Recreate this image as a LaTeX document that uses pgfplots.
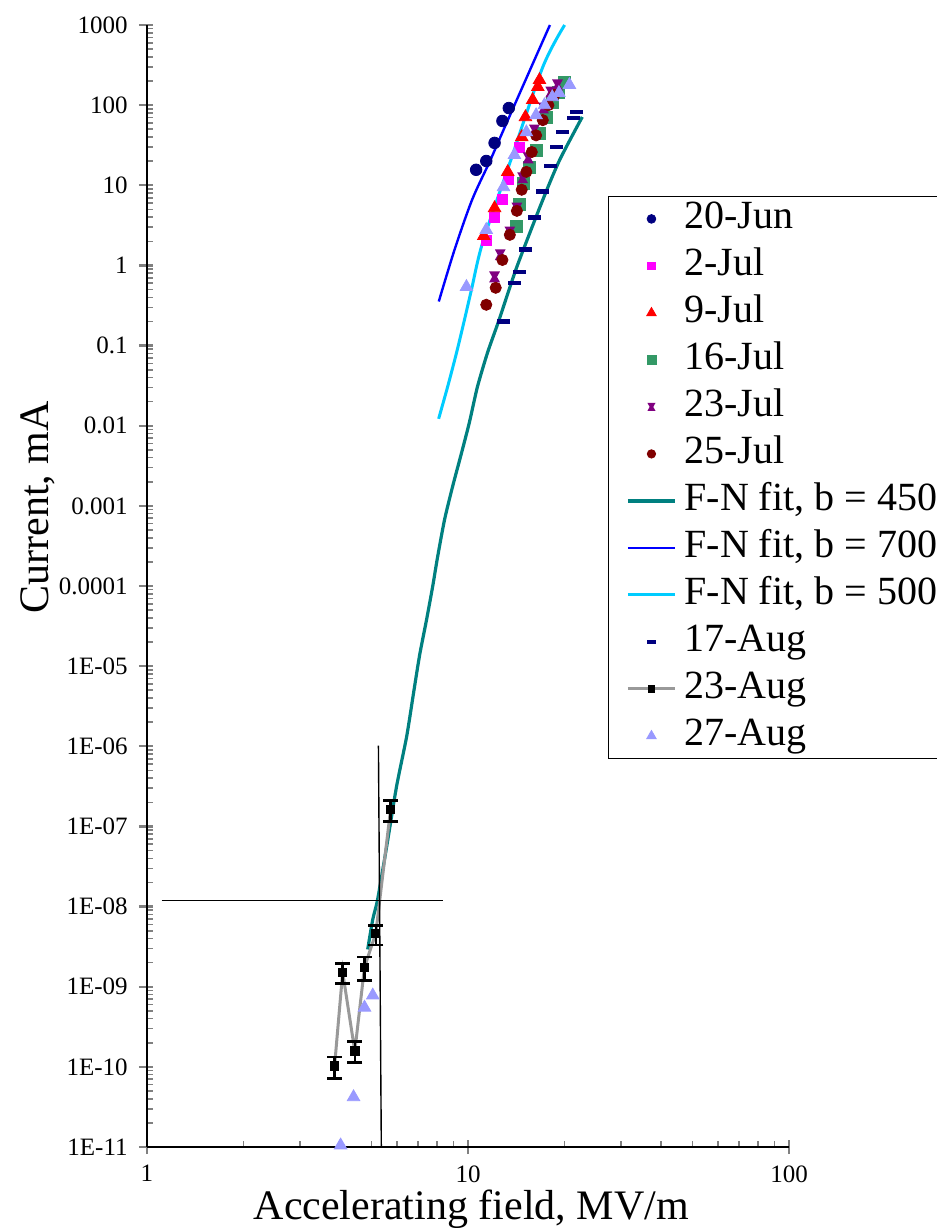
\documentclass[border=0pt]{standalone}
\usepackage{fontspec}
\setmainfont{Liberation Serif}
\usepackage{pgfplots}
\pgfplotsset{compat=1.18}

\definecolor{cNavy}{HTML}{000080}
\definecolor{cMag}{HTML}{FF00FF}
\definecolor{cRed}{HTML}{FF0000}
\definecolor{cGreen}{HTML}{339966}
\definecolor{cPurple}{HTML}{800080}
\definecolor{cDkRed}{HTML}{800000}
\definecolor{cTeal}{HTML}{008080}
\definecolor{cBlue}{HTML}{0000FF}
\definecolor{cCyan}{HTML}{00CCFF}
\definecolor{cGray}{HTML}{999999}
\definecolor{cLav}{HTML}{9999FF}

% hourglass-like mark (23-Jul)
\pgfdeclareplotmark{hourglass}{%
  \pgfpathmoveto{\pgfpoint{-\pgfplotmarksize}{\pgfplotmarksize}}%
  \pgfpathlineto{\pgfpoint{\pgfplotmarksize}{\pgfplotmarksize}}%
  \pgfpathlineto{\pgfpoint{0.45\pgfplotmarksize}{0pt}}%
  \pgfpathlineto{\pgfpoint{\pgfplotmarksize}{-\pgfplotmarksize}}%
  \pgfpathlineto{\pgfpoint{-\pgfplotmarksize}{-\pgfplotmarksize}}%
  \pgfpathlineto{\pgfpoint{-0.45\pgfplotmarksize}{0pt}}%
  \pgfpathclose\pgfusepathqfill}
% short horizontal bar (17-Aug)
\pgfdeclareplotmark{hdash}{%
  \pgfpathrectangle{\pgfpoint{-\pgfplotmarksize}{-0.35\pgfplotmarksize}}{\pgfpoint{2\pgfplotmarksize}{0.7\pgfplotmarksize}}%
  \pgfusepathqfill}

\begin{document}
\begin{tikzpicture}
\begin{axis}[
  name=ax,
  scale only axis,
  width=321pt, height=561pt,
  xmode=log, ymode=log,
  xmin=1, xmax=100, ymin=1e-11, ymax=1000,
  clip=false,
  axis x line*=bottom, axis y line*=left,
  axis line style={-, line width=1pt},
  xtick={1,10,100}, xticklabels={1,10,100},
  ytick={1e-11,1e-10,1e-9,1e-8,1e-7,1e-6,1e-5,1e-4,1e-3,1e-2,1e-1,1,10,100,1000},
  yticklabels={1E-11,1E-10,1E-09,1E-08,1E-07,1E-06,1E-05,0.0001,0.001,0.01,0.1,1,10,100,1000},
  tick align=inside,
  major tick length=7pt, minor tick length=3pt,
  every major x tick/.append style={yshift=-3.5pt, line width=1.2pt},
  every major y tick/.append style={xshift=-4pt, line width=1.2pt},
  minor tick style={line width=0.8pt},
  ticklabel style={font=\fontsize{12.5}{15}\selectfont},
  xticklabel style={inner sep=0pt, yshift=-9pt},
  yticklabel style={inner sep=0pt, xshift=-9.5pt},
  xlabel={Accelerating field, MV/m},
  ylabel={Current, mA},
  label style={font=\fontsize{21}{25}\selectfont},
  xlabel style={at={(axis description cs:0.505,-0.038)}, anchor=north, inner sep=0pt},
  ylabel style={at={(axis description cs:-0.154,0.57)}, rotate=0, anchor=base, inner sep=0pt},
  legend style={at={(0.718,0.8476)}, anchor=north west, draw=black,
    font=\fontsize{20}{24}\selectfont, inner xsep=9pt, inner ysep=2pt,
    row sep=5pt, column sep=4pt,
    nodes={inner sep=0pt, text height=14pt, text depth=4.5pt}},
  legend cell align=left,
  legend image code/.code={\draw[mark repeat=2,mark phase=2,#1,
    every mark/.append style={scale=0.75}]
    plot coordinates {(0pt,0pt) (11.75pt,0pt) (23.5pt,0pt)};},
]

% 20-Jun
\addplot[only marks, mark=*, mark size=2.9pt, color=cNavy] coordinates {
  (10.6,15.6)(11.4,20.1)(12.1,33.8)(12.8,63.5)(13.4,92)
};
\addlegendentry{20-Jun}

% 2-Jul
\addplot[only marks, mark=square*, mark size=2.5pt, color=cMag] coordinates {
  (11.4,2.08)(12.1,3.93)(12.8,6.6)(13.4,12.0)(14.5,30)
};
\addlegendentry{2-Jul}

% 9-Jul
\addplot[only marks, mark=triangle*, mark size=3.6pt, color=cRed] coordinates {
  (11.2,2.34)(12.1,5.2)(13.3,14.7)(14.7,40)(15.1,71)(15.9,116)(16.5,169)(16.7,206)
};
\addlegendentry{9-Jul}

% 16-Jul
\addplot[only marks, mark=square*, mark size=3pt, color=cGreen] coordinates {
  (14.2,3.03)(14.5,5.7)(14.9,10.7)(15.5,16.5)(16.3,27.6)(16.7,45)(17.5,71)(18.3,107)(19.1,146)(19.96,195)
};
\addlegendentry{16-Jul}

% 23-Jul
\addplot[only marks, mark=hourglass, mark size=2.7pt, color=cPurple] coordinates {
  (12.1,0.72)(12.6,1.36)(13.5,2.62)(14.2,5.2)(14.8,12.4)(15.4,22)(16.1,49)(17.2,92)(18.1,146)(19.0,179)
};
\addlegendentry{23-Jul}

% 25-Jul
\addplot[only marks, mark=*, mark size=2.8pt, color=cDkRed] coordinates {
  (11.4,0.323)(12.2,0.526)(12.8,1.17)(13.5,2.41)(14.2,4.8)(14.7,8.8)(15.2,14.7)(15.8,26)(16.3,42)(17.1,65)(17.8,100)(18.6,134)
};
\addlegendentry{25-Jul}

% F-N fit, b = 450
\addplot[no marks, smooth, tension=0.4, color=cTeal, line width=1.6pt] coordinates {
  (4.87,2.92e-9)(5.05,6.9e-9)(5.23,1.23e-8)(5.58,5.6e-8)(5.99,3.15e-7)(6.44,1.32e-6)
  (6.76,4.5e-6)(7.07,1.38e-5)(7.43,3.81e-5)(7.76,9.8e-5)(8.04,2.3e-4)(8.45,6.7e-4)
  (8.95,1.73e-3)(9.55,4.6e-3)(10.1,1.1e-2)(10.7,0.0306)(11.5,0.0813)(12.5,0.210)
  (14.2,0.962)(17.1,6.58)(19.3,20.7)(22.7,71.3)
};
\addlegendentry{F-N fit, b = 450}

% F-N fit, b = 700
\addplot[no marks, smooth, color=cBlue, line width=1.2pt] coordinates {
  (8.11,0.355)(9.08,1.57)(10.3,6.6)(11.7,20)(12.9,49)(15.85,317)(18.0,1000)
};
\addlegendentry{F-N fit, b = 700}

% F-N fit, b = 500
\addplot[no marks, smooth, color=cCyan, line width=1.5pt] coordinates {
  (8.10,0.0122)(8.64,0.0306)(9.21,0.0813)(9.75,0.21)(10.25,0.497)(11.1,1.91)(13.5,19.0)(17.1,299)(20.0,1000)
};
\addlegendentry{F-N fit, b = 500}

% 17-Aug
\addplot[only marks, mark=hdash, mark size=3.3pt, color=cNavy] coordinates {
  (12.9,0.198)(13.95,0.607)(14.5,0.83)(15.1,1.57)(16.1,3.93)(17.1,8.3)(18.1,17.5)(18.9,30)(19.7,46)(21.3,69)(21.8,82)
};
\addlegendentry{17-Aug}

% 23-Aug
\addplot[color=cGray, line width=1.5pt, mark=square*, mark size=1.6pt,
  mark options={fill=black, draw=black},
  error bars/.cd, y dir=both, y explicit,
  error bar style={black, line width=1.2pt},
  error mark options={rotate=90, black, mark size=3.75pt, line width=1.2pt}]
  coordinates {
  (3.84,1.02e-10) += (0,0.30e-10) -= (0,0.30e-10)
  (4.07,1.51e-9)  += (0,0.45e-9)  -= (0,0.41e-9)
  (4.44,1.57e-10) += (0,0.51e-10) -= (0,0.43e-10)
  (4.76,1.75e-9)  += (0,0.58e-9)  -= (0,0.55e-9)
  (5.16,4.63e-9)  += (0,1.2e-9)   -= (0,1.3e-9)
  (5.74,1.63e-7)  += (0,0.47e-7)  -= (0,0.48e-7)
};
\addlegendentry{23-Aug}

% 27-Aug
\addplot[only marks, mark=triangle*, mark size=3.6pt, color=cLav] coordinates {
  (4.01,1.05e-11)(4.40,4.2e-11)(4.76,5.5e-10)(5.05,7.8e-10)
  (9.89,0.54)(11.4,2.78)(12.9,9.5)(13.95,23.9)(15.2,46)(16.3,75)(17.3,100)(18.3,126)(19.2,142)(20.7,179)
};
\addlegendentry{27-Aug}

% guide lines
\addplot[forget plot, no marks, black, line width=0.7pt] coordinates {(1.11,1.2e-8)(8.33,1.2e-8)};
\addplot[forget plot, no marks, black, line width=0.7pt] coordinates {(5.26,1.02e-6)(5.37,1e-11)};

\end{axis}
\pgfresetboundingbox
\path[use as bounding box] ([shift={(-73.5pt,-40.5pt)}]ax.south west) rectangle ([shift={(395pt,573.5pt)}]ax.south west);
\end{tikzpicture}
\end{document}
